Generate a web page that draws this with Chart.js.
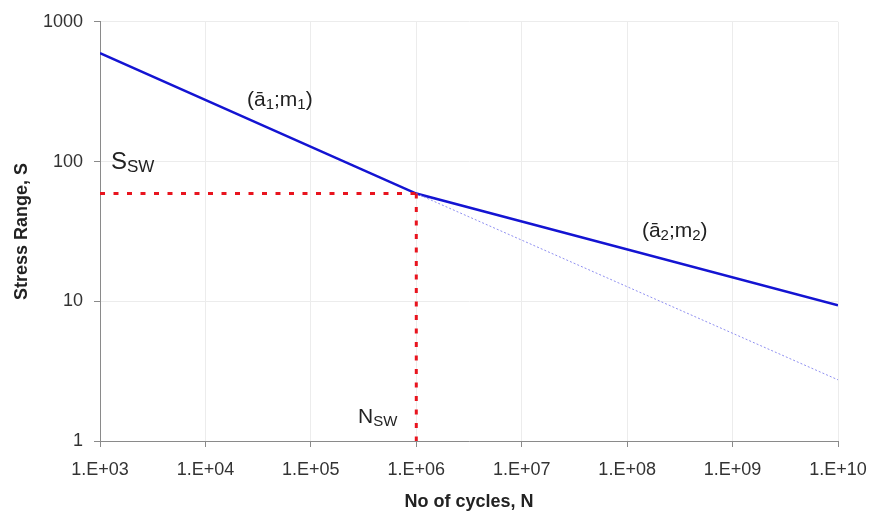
<!DOCTYPE html>
<html>
<head>
<meta charset="utf-8">
<style>
  html, body { margin: 0; padding: 0; background: #fff; }
  #wrap { width: 872px; height: 519px; }
</style>
<script src="https://cdn.jsdelivr.net/npm/chart.js@4/dist/chart.umd.min.js"></script>
</head>
<body>
<div id="wrap"><canvas id="sn-chart" width="872" height="519"></canvas></div>
<script>
const cycles = [1e3, 1e6, 1e10];
const stressRange = [597, 59, 9.35];
const extensionCycles = [1e6, 1e10];
const extensionStress = [59, 2.74];
const kneeCycles = 1e6;
const kneeStress = 59;
const xTicks = [1e3, 1e4, 1e5, 1e6, 1e7, 1e8, 1e9, 1e10];
const yTicks = [1, 10, 100, 1000];

// text notes, anchored in data space (N, S)
const notes = [
  { n: 1.27e3, s: 89, size: 24, parts: [["S"], ["SW", true]] },
  { n: 2.48e4, s: 251, size: 21, parts: [["(ā"], ["1", true], [";m"], ["1", true], [")"]] },
  { n: 1.38e8, s: 29, size: 21, parts: [["(ā"], ["2", true], [";m"], ["2", true], [")"]] },
  { n: 2.8e5, s: 1.34, size: 21, parts: [["N"], ["SW", true]] },
];

const FONT = "'Liberation Sans', Arial, sans-serif";

const toPoints = (xs, ys) => xs.map((x, i) => ({ x, y: ys[i] }));

const notesPlugin = {
  id: "notes",
  afterDatasetsDraw(chart) {
    const { ctx, scales: { x, y } } = chart;
    ctx.save();
    ctx.fillStyle = "#222";
    ctx.textBaseline = "alphabetic";
    notes.forEach((note) => {
      let px = x.getPixelForValue(note.n);
      const py = y.getPixelForValue(note.s);
      note.parts.forEach(([text, sub]) => {
        const size = sub ? Math.round(note.size * 0.72) : note.size;
        ctx.font = `${size}px ${FONT}`;
        ctx.fillText(text, px, py + (sub ? 3 : 0));
        px += ctx.measureText(text).width;
      });
    });
    ctx.restore();
  },
};

new Chart(document.getElementById("sn-chart"), {
  type: "scatter",
  data: {
    datasets: [
      {
        data: toPoints([cycles[0], kneeCycles], [kneeStress, kneeStress]),
        borderColor: "#e8141e",
        borderWidth: 3,
        borderDash: [5, 8.5],
      },
      {
        data: toPoints([kneeCycles, kneeCycles], [kneeStress, yTicks[0]]),
        borderColor: "#e8141e",
        borderWidth: 3,
        borderDash: [5, 8.5],
      },
      {
        data: toPoints(extensionCycles, extensionStress),
        borderColor: "#8f8ff0",
        borderWidth: 1,
        borderDash: [2, 2],
      },
      {
        data: toPoints(cycles, stressRange),
        borderColor: "#1414d2",
        borderWidth: 2.5,
      },
    ],
  },
  options: {
    responsive: false,
    animation: false,
    showLine: true,
    elements: { point: { radius: 0 }, line: { tension: 0 } },
    layout: { padding: { top: 20, right: 34, bottom: 0, left: 0 } },
    plugins: { legend: { display: false }, tooltip: { enabled: false } },
    scales: {
      x: {
        type: "logarithmic",
        min: 1e3,
        max: 1e10,
        afterBuildTicks: (axis) => { axis.ticks = xTicks.map((value) => ({ value })); },
        afterFit: (axis) => {
          axis.height = 78;
          axis.paddingRight = 0;
          axis.paddingLeft = 0;
        },
        border: { color: "#8a8a8a", width: 1 },
        grid: { color: "#ececec", tickColor: "#8a8a8a", tickLength: 6 },
        ticks: {
          padding: 12,
          color: "#333",
          font: { family: FONT, size: 18 },
          maxRotation: 0,
          callback: (value) => "1.E+" + String(Math.round(Math.log10(value))).padStart(2, "0"),
        },
        title: {
          display: true,
          text: "No of cycles, N",
          color: "#222",
          font: { family: FONT, size: 18, weight: "bold" },
          padding: { bottom: 6 },
        },
      },
      y: {
        type: "logarithmic",
        min: 1,
        max: 1000,
        afterBuildTicks: (axis) => { axis.ticks = yTicks.map((value) => ({ value })); },
        afterFit: (axis) => { axis.width = 100; },
        border: { color: "#8a8a8a", width: 1 },
        grid: { color: "#ececec", tickColor: "#8a8a8a", tickLength: 6 },
        ticks: {
          padding: 11,
          color: "#333",
          font: { family: FONT, size: 18 },
          callback: (value) => String(value),
        },
        title: {
          display: true,
          text: "Stress Range, S",
          color: "#222",
          font: { family: FONT, size: 18, weight: "bold" },
          padding: { top: 11 },
        },
      },
    },
  },
  plugins: [notesPlugin],
});
</script>
</body>
</html>
